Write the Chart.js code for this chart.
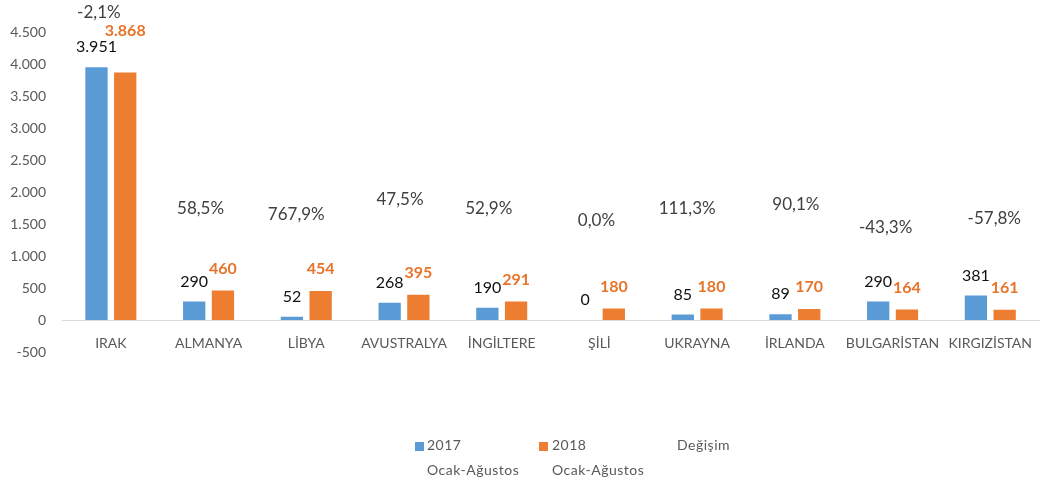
<!DOCTYPE html>
<html>
<head>
<meta charset="utf-8">
<script src="https://cdn.jsdelivr.net/npm/chart.js@4"></script>
<style>
html,body{margin:0;padding:0;background:#fff;}
#wrap{position:relative;width:1047px;height:486px;overflow:hidden;}
#chart{position:absolute;left:0;top:0;}
.lg{position:absolute;font-family:Lato,sans-serif;font-size:14px;color:#595959;line-height:25px;white-space:nowrap;letter-spacing:0.5px;}
.sw{position:absolute;width:9px;height:9px;}
</style>
</head>
<body>
<div id="wrap">
  <canvas id="chart" width="1047" height="486"></canvas>
  <div class="sw" style="left:415px;top:442px;background:#5B9BD5;"></div>
  <div class="lg" style="left:427px;top:432px;">2017<br>Ocak-Ağustos</div>
  <div class="sw" style="left:539px;top:442px;background:#ED7D31;"></div>
  <div class="lg" style="left:552px;top:432px;">2018<br>Ocak-Ağustos</div>
  <div class="lg" style="left:677px;top:432px;">Değişim</div>
</div>
<script>
// ---- data ----
const categories = ['IRAK','ALMANYA','LİBYA','AVUSTRALYA','İNGİLTERE','ŞİLİ','UKRAYNA','İRLANDA','BULGARİSTAN','KIRGIZİSTAN'];
const values2017 = [3951, 290, 52, 268, 190, 0, 85, 89, 290, 381];
const values2018 = [3868, 460, 454, 395, 291, 180, 180, 170, 164, 161];
const changePct  = [-2.1, 58.5, 767.9, 47.5, 52.9, 0.0, 111.3, 90.1, -43.3, -57.8];
const seriesNames = ['2017 Ocak-Ağustos', '2018 Ocak-Ağustos', 'Değişim'];
const yMin = -500, yMax = 4500, yStep = 500;

// ---- label placement (annotation positions, not data) ----
const changeLabelY  = [4800, 1735, 1655, 1875, 1735, 1560, 1735, 1810, 1440, 1580]; // in y-axis units
const changeLabelDx = [-12, -8, -10, -4, -13, -3, -10, 1, -7, 4];                  // px
const valueLabelOffset = [20, 22];
const extraOffset2018 = [20, 0, 0, 0, 0, 0, 0, 0, 0, 0];

function fmtThousands(v){ return String(v).replace(/\B(?=(\d{3})+(?!\d))/g, '.'); }
function fmtPct(v){ return v.toFixed(1).replace('.', ',') + '%'; }

const labelPlugin = {
  id: 'valueLabels',
  afterDatasetsDraw(chart){
    const ctx = chart.ctx;
    const xs = chart.scales.x, ys = chart.scales.y;
    ctx.save();
    ctx.textAlign = 'center';
    ctx.textBaseline = 'middle';
    chart.data.datasets.forEach((ds, di) => {
      const meta = chart.getDatasetMeta(di);
      meta.data.forEach((bar, i) => {
        const off = valueLabelOffset[di] + (di === 1 ? extraOffset2018[i] : 0);
        ctx.font = di === 0 ? '16px Lato' : 'bold 16px Lato';
        ctx.fillStyle = di === 0 ? '#111111' : '#E8742A';
        ctx.fillText(fmtThousands(ds.data[i]), bar.x, bar.y - off);
      });
    });
    ctx.font = '17px Lato';
    ctx.fillStyle = '#404040';
    changePct.forEach((p, i) => {
      const x = xs.getPixelForValue(i) + changeLabelDx[i];
      const y = ys.getPixelForValue(changeLabelY[i]);
      ctx.fillText(fmtPct(p), x, y);
    });
    ctx.restore();
  }
};

new Chart(document.getElementById('chart'), {
  type: 'bar',
  data: {
    labels: categories,
    datasets: [
      { label: seriesNames[0], data: values2017, backgroundColor: '#5B9BD5',
        categoryPercentage: 0.588, barPercentage: 0.776 },
      { label: seriesNames[1], data: values2018, backgroundColor: '#ED7D31',
        categoryPercentage: 0.588, barPercentage: 0.776 }
    ]
  },
  options: {
    responsive: false,
    animation: false,
    layout: { padding: { top: 32, bottom: 134, left: 0, right: 0 } },
    plugins: { legend: { display: false }, tooltip: { enabled: false } },
    scales: {
      x: {
        position: { y: 0 },
        grid: { display: false, drawTicks: false },
        border: { display: true, color: '#D9D9D9', width: 1 },
        ticks: { font: { family: 'Lato', size: 14 }, color: '#595959', padding: 15, maxRotation: 0, autoSkip: false },
        afterFit(s){ s.height = 0; }
      },
      y: {
        min: yMin, max: yMax,
        grid: { display: false, drawTicks: false },
        border: { display: false },
        ticks: { stepSize: yStep, font: { family: 'Lato', size: 14 }, color: '#595959', padding: 16,
                 callback: v => fmtThousands(v) },
        afterFit(s){ s.width = 62; }
      }
    }
  },
  plugins: [labelPlugin]
});
</script>
</body>
</html>
